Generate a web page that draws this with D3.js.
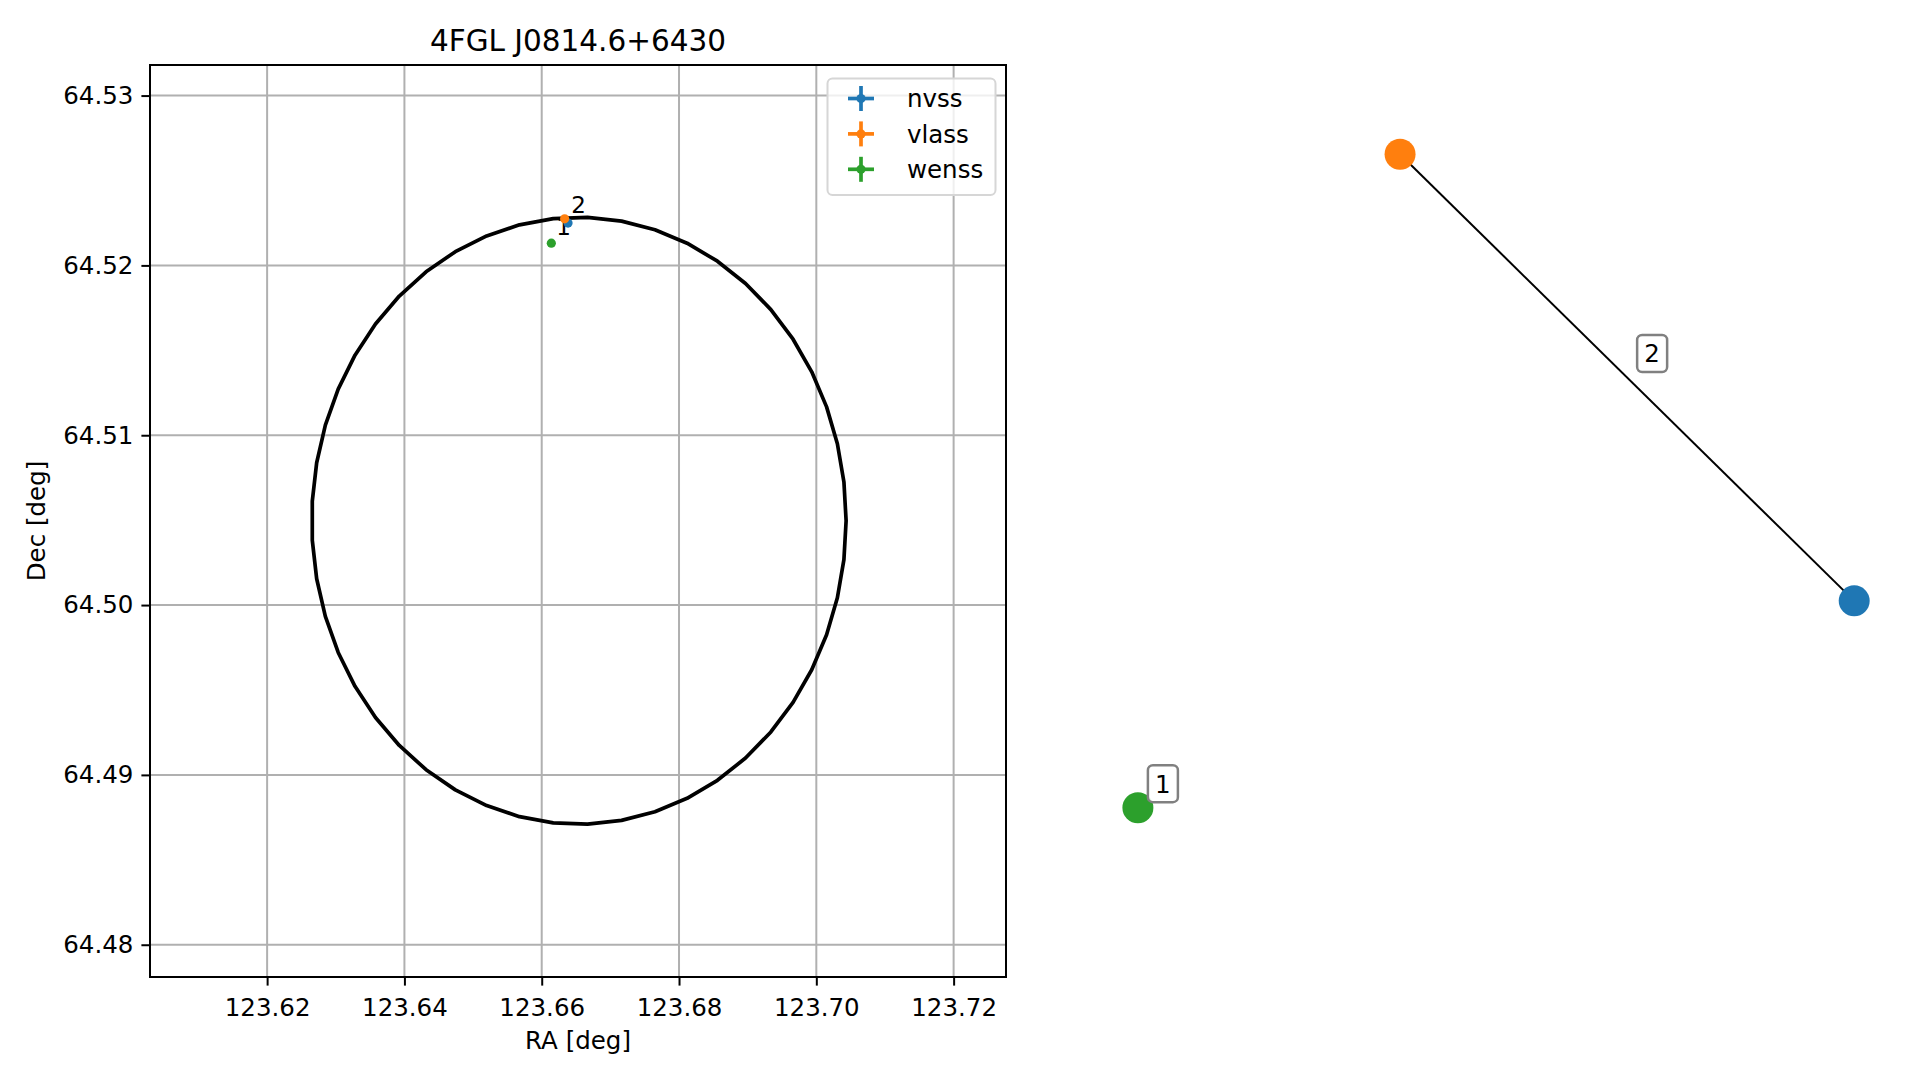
<!DOCTYPE html>
<html>
<head>
<meta charset="utf-8">
<script src="https://cdn.jsdelivr.net/npm/d3@7"></script>
<style>
  html, body { margin: 0; padding: 0; background: #fff; }
  svg { display: block; font-family: "DejaVu Sans", sans-serif; }
</style>
</head>
<body>
<svg id="chart" width="1919" height="1080"></svg>
<script>
// ---------- data ----------
const title = "4FGL J0814.6+6430";
const surveys = ["nvss", "vlass", "wenss"];
const surveyColors = ["#1f77b4", "#ff7f0e", "#2ca02c"];
const srcRA  = [123.66383, 123.66334, 123.66140];
const srcDec = [64.52249, 64.52274, 64.52131];
const srcGroup = [2, 2, 1];
const xTicks = [123.62, 123.64, 123.66, 123.68, 123.70, 123.72];
const yTicks = [64.48, 64.49, 64.50, 64.51, 64.52, 64.53];
const xDomain = [123.60294, 123.72763];
const yDomain = [64.47810, 64.53180];
// 4FGL 95% error ellipse (center, semi-axes in deg, rotation)
const ellCenter = [123.66542, 64.504964];
const ellSemi = [0.03892, 0.017872];
const ellAngleDeg = 0;
const ellVertices = 50;
// network panel (layout coordinates)
const nodeX = [1.0, -0.268, -1.0];
const nodeY = [-0.367, 1.0, -1.0];
const edges = [[0, 1]];
const groupLabels = [1, 2];
const groupMembers = [[2], [0, 1]];

// ---------- drawing ----------
const svg = d3.select("#chart");
const L = { left: 150, right: 1006, top: 65, bottom: 977 };
const fs = 24.5;

const x = d3.scaleLinear().domain(xDomain).range([L.left, L.right]);
const y = d3.scaleLinear().domain(yDomain).range([L.bottom, L.top]);

const gL = svg.append("g");

// grid
gL.append("g").selectAll("line").data(xTicks).join("line")
  .attr("x1", d => x(d)).attr("x2", d => x(d))
  .attr("y1", L.top).attr("y2", L.bottom)
  .attr("stroke", "#b0b0b0").attr("stroke-width", 2);
gL.append("g").selectAll("line").data(yTicks).join("line")
  .attr("y1", d => y(d)).attr("y2", d => y(d))
  .attr("x1", L.left).attr("x2", L.right)
  .attr("stroke", "#b0b0b0").attr("stroke-width", 2);

// axes
const xAxis = d3.axisBottom(x).tickValues(xTicks).tickFormat(d3.format(".2f"))
  .tickSize(8.6).tickPadding(8);
const yAxis = d3.axisLeft(y).tickValues(yTicks).tickFormat(d3.format(".2f"))
  .tickSize(8.6).tickPadding(8);
const gx = gL.append("g").attr("transform", `translate(0,${L.bottom})`).call(xAxis);
const gy = gL.append("g").attr("transform", `translate(${L.left},0)`).call(yAxis);
[gx, gy].forEach(g => {
  g.select(".domain").remove();
  g.selectAll(".tick line").attr("stroke", "#000").attr("stroke-width", 2);
  g.selectAll(".tick text").attr("fill", "#000").attr("font-size", fs)
    .attr("font-family", "DejaVu Sans");
});
gx.selectAll(".tick text").attr("dy", "0.9em");

// ellipse
const th = ellAngleDeg * Math.PI / 180;
const ellPts = d3.range(ellVertices).map(i => {
  const t = 2 * Math.PI * i / (ellVertices - 1);
  const dx = ellSemi[0] * Math.cos(t), dy = ellSemi[1] * Math.sin(t);
  return [ellCenter[0] + dx * Math.cos(th) - dy * Math.sin(th),
          ellCenter[1] + dx * Math.sin(th) + dy * Math.cos(th)];
});
gL.append("path").datum(ellPts)
  .attr("d", d3.line().x(d => x(d[0])).y(d => y(d[1])))
  .attr("fill", "none").attr("stroke", "#000").attr("stroke-width", 3.7)
  .attr("stroke-linejoin", "round");

// group labels (at centroid of members)
groupLabels.forEach((lab, gi) => {
  const mem = groupMembers[gi];
  const cx = d3.mean(mem, i => x(srcRA[i]));
  const cy = d3.mean(mem, i => y(srcDec[i]));
  gL.append("text").attr("x", cx + 5).attr("y", cy - 8)
    .attr("font-size", 23).attr("fill", "#000").text(lab);
});

// points
gL.append("g").selectAll("circle").data(surveys).join("circle")
  .attr("cx", (d, i) => x(srcRA[i])).attr("cy", (d, i) => y(srcDec[i]))
  .attr("r", 4.6).attr("fill", (d, i) => surveyColors[i]);

// spines
gL.append("rect").attr("x", L.left).attr("y", L.top)
  .attr("width", L.right - L.left).attr("height", L.bottom - L.top)
  .attr("fill", "none").attr("stroke", "#000").attr("stroke-width", 2);

// title & labels
svg.append("text").attr("x", (L.left + L.right) / 2).attr("y", 51)
  .attr("text-anchor", "middle").attr("font-size", 29.5).text(title);
svg.append("text").attr("x", (L.left + L.right) / 2).attr("y", 1049)
  .attr("text-anchor", "middle").attr("font-size", fs).text("RA [deg]");
svg.append("text").attr("transform", `translate(45,${(L.top + L.bottom) / 2}) rotate(-90)`)
  .attr("text-anchor", "middle").attr("font-size", fs).text("Dec [deg]");

// legend
const leg = svg.append("g");
leg.append("rect").attr("x", 827.5).attr("y", 78.5).attr("width", 168).attr("height", 116.5)
  .attr("rx", 5).attr("fill", "#fff").attr("fill-opacity", 0.8)
  .attr("stroke", "#d6d6d6").attr("stroke-width", 2);
surveys.forEach((s, i) => {
  const cy = 98.5 + i * 35.4;
  const c = surveyColors[i];
  leg.append("line").attr("x1", 848).attr("x2", 874).attr("y1", cy).attr("y2", cy)
    .attr("stroke", c).attr("stroke-width", 3.7);
  leg.append("line").attr("x1", 861).attr("x2", 861).attr("y1", cy - 12.5).attr("y2", cy + 12.5)
    .attr("stroke", c).attr("stroke-width", 3.7);
  leg.append("circle").attr("cx", 861).attr("cy", cy).attr("r", 4.6).attr("fill", c);
  leg.append("text").attr("x", 907).attr("y", cy).attr("dy", "0.36em")
    .attr("font-size", fs).text(s);
});

// ---------- network panel ----------
const nx = d3.scaleLinear().domain([-1, 1]).range([1137.9, 1854.2]);
const ny = d3.scaleLinear().domain([-1, 1]).range([807.7, 154.2]);
const gR = svg.append("g");
gR.selectAll("line.edge").data(edges).join("line").attr("class", "edge")
  .attr("x1", d => nx(nodeX[d[0]])).attr("y1", d => ny(nodeY[d[0]]))
  .attr("x2", d => nx(nodeX[d[1]])).attr("y2", d => ny(nodeY[d[1]]))
  .attr("stroke", "#000").attr("stroke-width", 2);
gR.selectAll("circle").data(surveys).join("circle")
  .attr("cx", (d, i) => nx(nodeX[i])).attr("cy", (d, i) => ny(nodeY[i]))
  .attr("r", 15.5).attr("fill", (d, i) => surveyColors[i]);
groupLabels.forEach((lab, gi) => {
  const mem = groupMembers[gi];
  const cx = d3.mean(mem, i => nx(nodeX[i])) + 25;
  const cy = d3.mean(mem, i => ny(nodeY[i])) - 24;
  gR.append("rect").attr("x", cx - 15).attr("y", cy - 18.5).attr("width", 30).attr("height", 37)
    .attr("rx", 5).attr("fill", "#fff").attr("fill-opacity", 0.85)
    .attr("stroke", "#808080").attr("stroke-width", 2.5);
  gR.append("text").attr("x", cx).attr("y", cy).attr("dy", "0.36em")
    .attr("text-anchor", "middle").attr("font-size", fs).text(lab);
});
</script>
</body>
</html>
